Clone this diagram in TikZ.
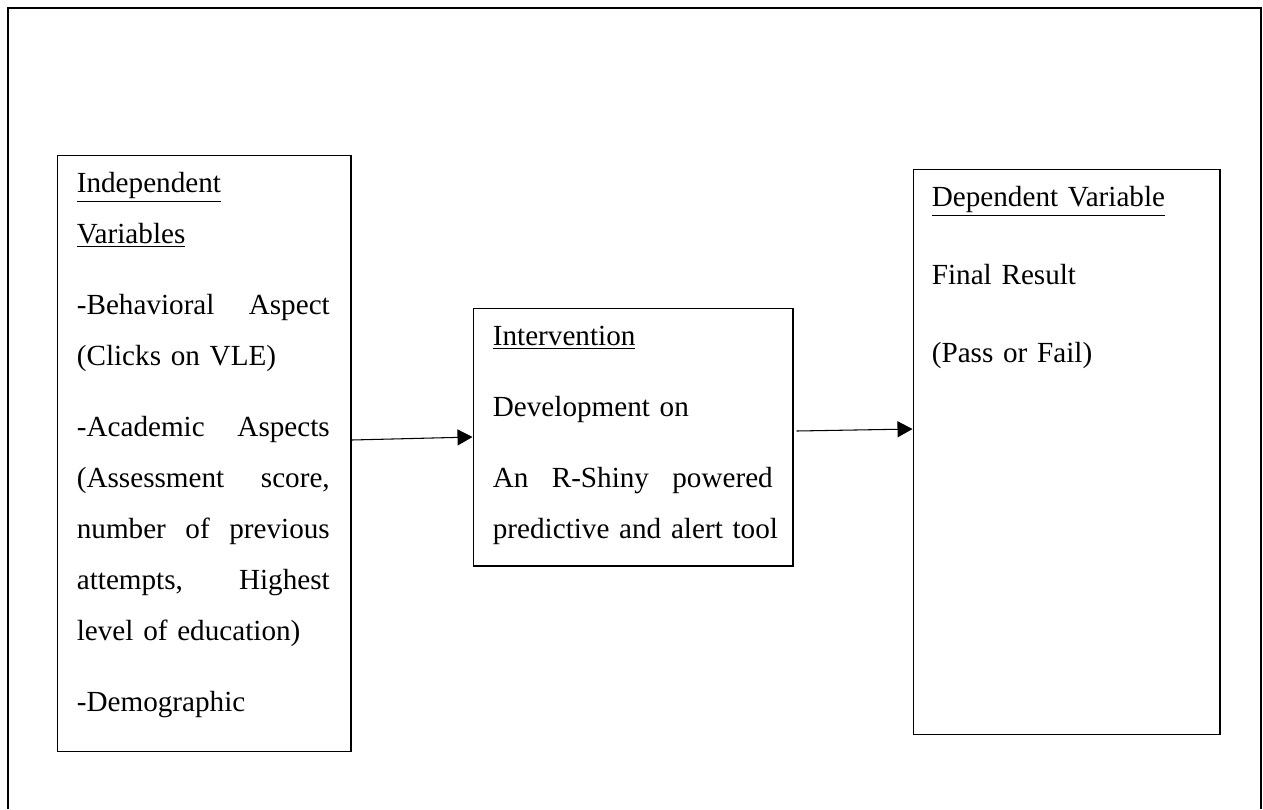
\documentclass[tikz,border=0pt]{standalone}
\usepackage{fontspec}
\setmainfont{Liberation Serif}
\usepackage{tikz}
\usetikzlibrary{arrows.meta, positioning}

\begin{document}
\begin{tikzpicture}[x=0.02cm, y=-0.02cm,
		varbox/.style={draw, line width=0.6pt, inner sep=0pt},
		boxtext/.style={anchor=base west, inner sep=0pt, align=left, font=\fontsize{16.6}{29}\selectfont},
		flow/.style={line width=0.6pt, -{Triangle[length=0.3cm, width=0.32cm]}}]
				\useasboundingbox (0,0) rectangle (1263,809);
				% Frame:
				\draw[line width=1.4pt] (8,809) -- (8,8) -- (1261,8) -- (1261,809);
				% Boxes:
				\node[varbox, minimum width=5.88cm, minimum height=11.94cm](N1) at (204, 453.5){};
				\node[varbox, minimum width=6.4cm, minimum height=5.16cm](N2) at (633, 437){};
				\node[varbox, minimum width=6.14cm, minimum height=11.32cm](N3) at (1066.5, 452){};
				% Texts:
				\node[boxtext, text width=5.06cm](T1) at ([shift={(20,38)}]N1.north west){%
					\underline{Independent}\\
					\underline{Variables}\\[0.4cm]
					-Behavioral\hfill Aspect\\
					(Clicks on VLE)\\[0.4cm]
					-Academic\hfill Aspects\\
					(Assessment\hfill score,\\
					number\hfill of\hfill previous\\
					attempts,\hfill Highest\\
					level of education)\\[0.4cm]
					-Demographic};
				\node[boxtext, text width=5.6cm](T2) at ([shift={(20,38)}]N2.north west){%
					\underline{Intervention}\\[0.4cm]
					Development on\\[0.4cm]
					An\hfill R-Shiny\hfill powered\\
					\makebox[\linewidth][l]{predictive and alert tool}};
				\node[boxtext, text width=5.6cm](T3) at ([shift={(19,38)}]N3.north west){%
					\underline{Dependent Variable}\\[0.54cm]
					Final Result\\[0.54cm]
					(Pass or Fail)};
				% Arrows:
				\draw[flow] ([yshift=0.27cm]N1.east) -- (N2.west);
				\draw[flow] ([xshift=0.06cm, yshift=0.12cm]N2.east) -- ([yshift=0.46cm]N3.west);
\end{tikzpicture}
\end{document}
